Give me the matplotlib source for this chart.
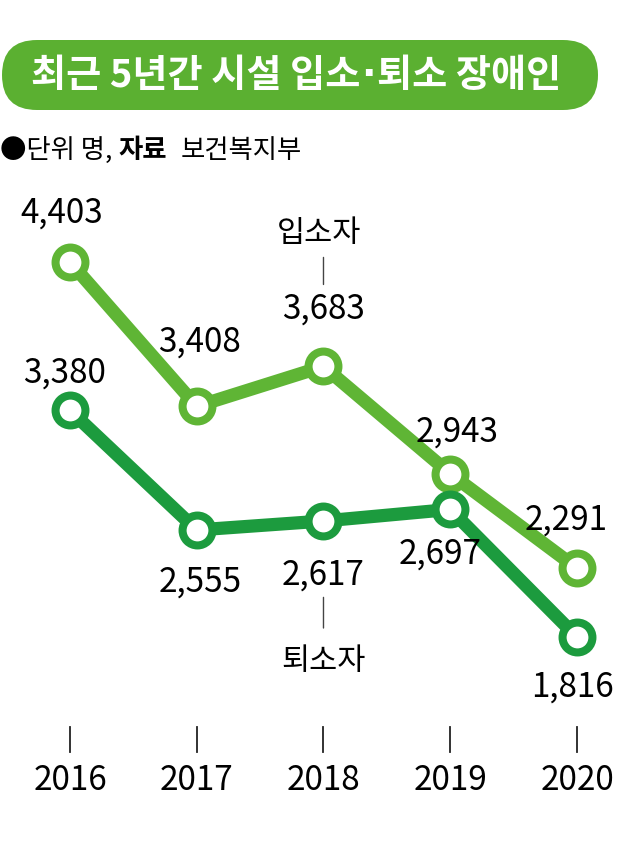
import matplotlib
matplotlib.use('Agg')
import matplotlib.pyplot as plt
import matplotlib.transforms as mtransforms
from matplotlib.patches import FancyBboxPatch

plt.rcParams['font.family'] = ['Noto Sans CJK KR', 'DejaVu Sans']

years = ['2016', '2017', '2018', '2019', '2020']
admitted = [4403, 3408, 3683, 2943, 2291]
discharged = [3380, 2555, 2617, 2697, 1816]

# label offsets in pixels (dx, dy) relative to each marker
adm_off = [(-8, 49), (3, 64), (0, 57), (7, 42), (-11, 48)]
dis_off = [(-5, 37), (3, -52), (0, -54), (-10, -45), (-5, -50)]

c_light = '#5fb535'
c_dark = '#1c9b3e'

fig = plt.figure(figsize=(6.4, 8.49), dpi=100)

# decoration layer in pixel coordinates
bg = fig.add_axes([0, 0, 1, 1])
bg.set_xlim(0, 640)
bg.set_ylim(849, 0)
bg.axis('off')
pill = FancyBboxPatch((2, 40), 596, 70, boxstyle='round,pad=0,rounding_size=35',
                      fc='#5bb031', ec='none')
bg.add_patch(pill)
t1 = bg.text(31, 75, '최근 5년간 시설 입소', color='white', fontsize=27.5,
             fontweight='bold', ha='left', va='center')
t2 = bg.annotate('·', xy=(1, 0.5), xycoords=t1, xytext=(1, 0), textcoords='offset pixels',
                 color='white', fontsize=27.5, fontweight='bold', ha='left', va='center',
                 family='DejaVu Sans')
bg.annotate('퇴소 장애인', xy=(1, 0.5), xycoords=t2, xytext=(1, 0), textcoords='offset pixels',
            color='white', fontsize=27.5, fontweight='bold', ha='left', va='center')

s1 = bg.text(0, 150, '●단위 명,', fontsize=19, ha='left', va='center')
s2 = bg.annotate('자료', xy=(1, 0.5), xycoords=s1, xytext=(6, 0), textcoords='offset pixels',
                 fontsize=19, fontweight='bold', ha='left', va='center')
bg.annotate('보건복지부', xy=(1, 0.5), xycoords=s2, xytext=(14, 0), textcoords='offset pixels',
            fontsize=19, ha='left', va='center')

# chart layer
ax = fig.add_axes([0, 0, 1, 1], facecolor='none')
x = list(range(len(years)))
ax.set_xlim(-0.552, 4.497)
ax.set_ylim(355, 6210)
ax.axis('off')

for vals, col, offs in [(admitted, c_light, adm_off), (discharged, c_dark, dis_off)]:
    ax.plot(x, vals, color=col, lw=9.5, solid_capstyle='round', zorder=2,
            marker='o', ms=21.5, mfc='white', mec=col, mew=5.8)
    for xi, v, (dx, dy) in zip(x, vals, offs):
        ax.annotate(f'{v:,}', (xi, v), xytext=(dx, dy), textcoords='offset pixels',
                    ha='center', va='center', fontsize=24)

# series labels with leader lines
ax.annotate('입소자', (2, admitted[2]), xytext=(-4, 133), textcoords='offset pixels',
            ha='center', va='center', fontsize=22)
ax.annotate('', (2, admitted[2]), xytext=(0, 109), textcoords='offset pixels',
            arrowprops=dict(arrowstyle='-', color='#444444', lw=1,
                            shrinkA=0, shrinkB=59))
ax.annotate('퇴소자', (2, discharged[2]), xytext=(0, -140), textcoords='offset pixels',
            ha='center', va='center', fontsize=22)
ax.annotate('', (2, discharged[2]), xytext=(0, -107), textcoords='offset pixels',
            arrowprops=dict(arrowstyle='-', color='#444444', lw=1,
                            shrinkA=0, shrinkB=55))

# category ticks and labels
trans = mtransforms.blended_transform_factory(ax.transData, ax.transAxes)
for xi, yr in zip(x, years):
    ax.plot([xi, xi], [1 - 727 / 849, 1 - 752 / 849], transform=trans,
            color='#222222', lw=1.3)
    ax.text(xi, 1 - 780 / 849, yr, transform=trans, ha='center', va='center',
            fontsize=24)

fig.savefig('out.png', dpi=100)
